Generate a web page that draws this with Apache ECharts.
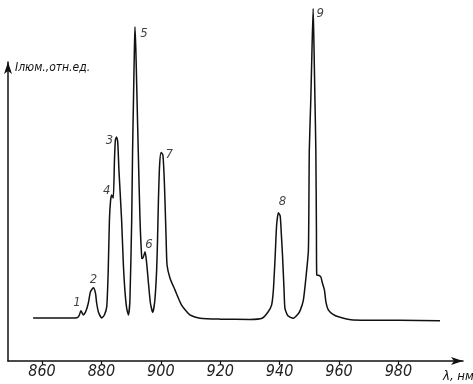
<!DOCTYPE html>
<html>
<head>
<meta charset="utf-8">
<script src="https://cdn.jsdelivr.net/npm/echarts@6/dist/echarts.min.js"></script>
<style>html,body{margin:0;padding:0;background:#fff}#c{width:473px;height:384px}</style>
</head>
<body>
<div id="c"></div>
<script>
// wavelength, nm
const wavelengths = [857.0,866.1,871.8,872.5,873.1,873.9,874.8,875.6,876.3,877.3,878.0,878.4,879.0,880.1,881.0,881.8,882.3,882.7,883.1,883.5,884.0,884.4,884.7,885.1,885.5,885.9,886.8,887.4,887.9,888.5,889.1,889.6,890.2,890.5,890.8,891.1,891.3,891.6,892.0,892.4,893.0,893.6,893.9,894.7,895.2,895.9,896.5,897.3,898.0,898.6,898.9,899.2,899.6,900.1,900.7,901.1,901.4,901.8,902.1,903.1,904.8,907.0,909.8,913.2,919.9,930.0,934.1,936.1,937.3,937.9,938.5,939.0,939.6,940.2,940.6,941.0,941.5,941.8,942.8,944.6,946.2,947.0,948.0,948.9,949.7,950.0,950.5,950.9,951.3,951.6,951.9,952.2,952.4,952.5,953.3,953.9,954.4,955.1,955.6,956.4,958.0,959.8,964.8,980.5,994.0];
// luminescence intensity, arb. units
const intensity = [14.4,14.4,14.5,15.2,16.8,15.4,16.7,19.4,23.1,24.5,22.7,19.4,16.4,14.4,15.4,18.2,30.4,47.2,53.8,55.5,54.5,67.2,73.9,74.9,73.2,63.9,47.2,32.1,23.7,17.7,15.4,20.4,47.2,70.6,87.3,104.0,111.8,104.0,87.3,70.6,47.2,34.4,34.3,36.5,33.1,25.4,19.4,16.2,20.4,30.4,40.5,53.8,65.6,69.7,68.9,62.2,53.8,40.5,32.1,27.7,23.7,18.7,15.4,14.3,14.0,13.9,14.3,16.4,18.7,23.7,34.9,45.5,49.6,48.5,42.1,34.9,23.7,17.6,15.1,14.3,15.7,17.1,20.4,28.2,37.1,70.6,87.3,104.0,117.9,104.0,87.3,70.6,43.8,28.8,28.6,28.1,26.1,23.7,19.7,17.1,15.6,14.8,13.7,13.6,13.5];
// peak numbering
const peakLabels = ['1','2','3','4','5','6','7','8','9'];
const peakWavelengths = [873.1,877.3,885.1,883.5,891.3,894.7,900.1,939.6,951.3];
const peakHeights = [16.8,24.5,74.9,55.5,111.8,36.5,69.7,49.6,117.9];
// x tick labels
const xTicks = [860,880,900,920,940,960,980];
const xAxisName = 'λ, нм';
const yAxisName = 'Iлюм.,отн.ед.';

const labelOffsets = [[-4,-8],[0,-8],[-7,4],[-5,-4],[9,7],[4,-7],[8,2],[4,-11],[7,5]];
const fontFam = '"Liberation Sans Narrow","DejaVu Sans Condensed",sans-serif';

const chart = echarts.init(document.getElementById('c'), null, {renderer:'canvas'});
chart.setOption({
  backgroundColor:'#fff',
  animation:false,
  grid:{left:8, right:10, top:62, bottom:23},
  xAxis:{
    type:'value', min:848.55, max:1001.75,
    splitLine:{show:false},
    axisLine:{show:true, symbol:['none','arrow'], symbolSize:[6,12], lineStyle:{color:'#111', width:1.5}},
    axisTick:{show:true, customValues:xTicks, length:4, lineStyle:{color:'#111', width:1.2}},
    axisLabel:{customValues:xTicks, margin:3, color:'#222', fontSize:16, fontStyle:'italic', fontFamily:fontFam}
  },
  yAxis:{
    type:'value', min:0, max:100,
    splitLine:{show:false},
    axisLine:{show:true, symbol:['none','arrow'], symbolSize:[6,12], lineStyle:{color:'#111', width:1.5}},
    axisTick:{show:false}, axisLabel:{show:false}
  },
  series:[
    {
      type:'line', clip:false, symbol:'none', smooth:0.2,
      lineStyle:{color:'#111', width:1.5},
      data: wavelengths.map((w,i)=>[w,intensity[i]])
    },
    {
      type:'scatter', clip:false, symbolSize:0, silent:true,
      data: peakLabels.map((n,i)=>({name:n, value:[peakWavelengths[i], peakHeights[i]],
        label:{offset:labelOffsets[i]}})),
      label:{show:true, position:'inside', formatter:'{b}', color:'#111', fontSize:13, fontStyle:'italic', fontFamily:fontFam}
    }
  ],
  graphic:[
    {type:'text', left:15, top:62, style:{text:yAxisName, fill:'#111', font:'italic 12px '+fontFam}},
    {type:'text', left:443, top:370, style:{text:xAxisName, fill:'#111', font:'italic 13px '+fontFam}}
  ]
});
</script>
</body>
</html>
